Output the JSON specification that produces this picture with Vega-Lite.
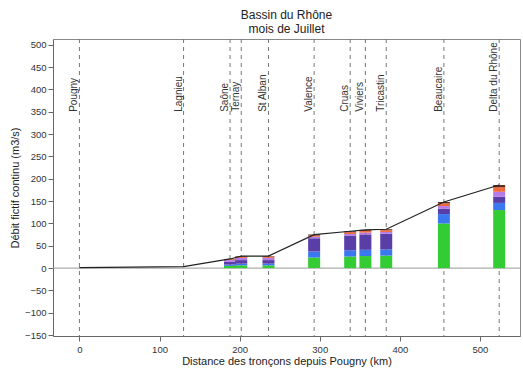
{
  "$schema": "https://vega.github.io/schema/vega-lite/v6.json",
  "width": 467,
  "height": 297,
  "autosize": {"type": "none"},
  "padding": {"left": 53, "top": 39, "right": 3, "bottom": 35},
  "background": "white",
  "config": {
    "font": "Liberation Sans",
    "view": {"stroke": "#888888", "strokeWidth": 1},
    "axis": {"grid": false, "domainColor": "#666666", "tickColor": "#666666", "labelColor": "#333333", "titleColor": "#222222", "labelFontSize": 9.5, "titleFontSize": 11, "titleFontWeight": "normal", "tickSize": 5, "labelOverlap": false},
    "axisY": {"labelOverlap": false},
    "axisQuantitative": {"labelOverlap": false}
  },
  "title": {"text": ["Bassin du Rhône", "mois de Juillet"], "fontSize": 12, "fontWeight": "normal", "color": "#222222", "lineHeight": 14, "offset": 3, "anchor": "middle", "frame": "group"},
  "datasets": {
    "stations": [
      {"station": "Pougny", "km": 0},
      {"station": "Lagnieu", "km": 130},
      {"station": "Saône", "km": 188},
      {"station": "Ternay", "km": 202},
      {"station": "St Alban", "km": 236},
      {"station": "Valence", "km": 293},
      {"station": "Cruas", "km": 338},
      {"station": "Viviers", "km": 357},
      {"station": "Tricastin", "km": 383},
      {"station": "Beaucaire", "km": 455},
      {"station": "Delta du Rhône", "km": 524}
    ],
    "total": [
      {"station": "Pougny", "km": 0, "debit": 1},
      {"station": "Lagnieu", "km": 130, "debit": 3.5},
      {"station": "Saône", "km": 188, "debit": 20.5},
      {"station": "Ternay", "km": 202, "debit": 27},
      {"station": "St Alban", "km": 236, "debit": 27},
      {"station": "Valence", "km": 293, "debit": 75},
      {"station": "Cruas", "km": 338, "debit": 82.5},
      {"station": "Viviers", "km": 357, "debit": 85.5},
      {"station": "Tricastin", "km": 383, "debit": 87},
      {"station": "Beaucaire", "km": 455, "debit": 148},
      {"station": "Delta du Rhône", "km": 524, "debit": 186}
    ],
    "parts": [
      {"km": 188, "comp": "c1", "value": 5}, {"km": 188, "comp": "c2", "value": 3}, {"km": 188, "comp": "c3", "value": 6}, {"km": 188, "comp": "c4", "value": 4}, {"km": 188, "comp": "c5", "value": 2}, {"km": 188, "comp": "c6", "value": 0.5},
      {"km": 202, "comp": "c1", "value": 6}, {"km": 202, "comp": "c2", "value": 4}, {"km": 202, "comp": "c3", "value": 8}, {"km": 202, "comp": "c4", "value": 5}, {"km": 202, "comp": "c5", "value": 3}, {"km": 202, "comp": "c6", "value": 1},
      {"km": 236, "comp": "c1", "value": 6}, {"km": 236, "comp": "c2", "value": 4}, {"km": 236, "comp": "c3", "value": 8}, {"km": 236, "comp": "c4", "value": 5}, {"km": 236, "comp": "c5", "value": 3}, {"km": 236, "comp": "c6", "value": 1},
      {"km": 293, "comp": "c1", "value": 24}, {"km": 293, "comp": "c2", "value": 13}, {"km": 293, "comp": "c3", "value": 30}, {"km": 293, "comp": "c4", "value": 3}, {"km": 293, "comp": "c5", "value": 3}, {"km": 293, "comp": "c6", "value": 2},
      {"km": 338, "comp": "c1", "value": 26}, {"km": 338, "comp": "c2", "value": 14}, {"km": 338, "comp": "c3", "value": 33}, {"km": 338, "comp": "c4", "value": 3.5}, {"km": 338, "comp": "c5", "value": 4}, {"km": 338, "comp": "c6", "value": 2},
      {"km": 357, "comp": "c1", "value": 27}, {"km": 357, "comp": "c2", "value": 14}, {"km": 357, "comp": "c3", "value": 34.5}, {"km": 357, "comp": "c4", "value": 4}, {"km": 357, "comp": "c5", "value": 4}, {"km": 357, "comp": "c6", "value": 2},
      {"km": 383, "comp": "c1", "value": 28}, {"km": 383, "comp": "c2", "value": 14}, {"km": 383, "comp": "c3", "value": 35}, {"km": 383, "comp": "c4", "value": 4}, {"km": 383, "comp": "c5", "value": 4}, {"km": 383, "comp": "c6", "value": 2},
      {"km": 455, "comp": "c1", "value": 100}, {"km": 455, "comp": "c2", "value": 21}, {"km": 455, "comp": "c3", "value": 12}, {"km": 455, "comp": "c4", "value": 6}, {"km": 455, "comp": "c5", "value": 6}, {"km": 455, "comp": "c6", "value": 3},
      {"km": 524, "comp": "c1", "value": 130}, {"km": 524, "comp": "c2", "value": 16}, {"km": 524, "comp": "c3", "value": 14}, {"km": 524, "comp": "c4", "value": 11}, {"km": 524, "comp": "c5", "value": 10}, {"km": 524, "comp": "c6", "value": 5}
    ],
    "zero": [{"y": 0}]
  },
  "layer": [
    {
      "data": {"name": "zero"},
      "mark": {"type": "rule", "color": "#999999", "strokeWidth": 1},
      "encoding": {"y": {"field": "y", "type": "quantitative", "scale": {"domain": [-152, 513], "nice": false, "zero": false}, "axis": {"values": [-150, -100, -50, 0, 50, 100, 150, 200, 250, 300, 350, 400, 450, 500], "title": "Débit fictif continu (m3/s)", "titlePadding": 4, "labelPadding": 2, "labelOverlap": false}}}
    },
    {
      "data": {"name": "stations"},
      "mark": {"type": "rule", "color": "#777777", "strokeWidth": 1, "strokeDash": [4, 4]},
      "encoding": {"x": {"field": "km", "type": "quantitative", "scale": {"domain": [-33, 550], "nice": false, "zero": false, "padding": 0}, "axis": {"values": [0, 100, 200, 300, 400, 500], "title": "Distance des tronçons depuis Pougny (km)", "titlePadding": 2, "labelPadding": 3, "labelOverlap": false}}}
    },
    {
      "data": {"name": "parts"},
      "mark": {"type": "bar", "width": 12},
      "encoding": {
        "x": {"field": "km", "type": "quantitative", "axis": {"values": [0, 100, 200, 300, 400, 500], "title": "Distance des tronçons depuis Pougny (km)", "titlePadding": 2, "labelPadding": 3, "labelOverlap": false}},
        "y": {"field": "value", "type": "quantitative", "aggregate": "sum", "stack": "zero", "axis": {"values": [-150, -100, -50, 0, 50, 100, 150, 200, 250, 300, 350, 400, 450, 500], "title": "Débit fictif continu (m3/s)", "titlePadding": 4, "labelPadding": 2, "labelOverlap": false}},
        "color": {"field": "comp", "type": "nominal", "scale": {"domain": ["c1", "c2", "c3", "c4", "c5", "c6"], "range": ["#33cc33", "#3b78f0", "#5a3ea8", "#b57be6", "#f26a3c", "#5a2a1e"]}, "legend": null},
        "order": {"field": "comp", "sort": "ascending"}
      }
    },
    {
      "data": {"name": "total"},
      "mark": {"type": "line", "color": "#222222", "strokeWidth": 1.2},
      "encoding": {
        "x": {"field": "km", "type": "quantitative", "axis": {"values": [0, 100, 200, 300, 400, 500], "title": "Distance des tronçons depuis Pougny (km)", "titlePadding": 2, "labelPadding": 3, "labelOverlap": false}},
        "y": {"field": "debit", "type": "quantitative", "axis": {"values": [-150, -100, -50, 0, 50, 100, 150, 200, 250, 300, 350, 400, 450, 500], "title": "Débit fictif continu (m3/s)", "titlePadding": 4, "labelPadding": 2, "labelOverlap": false}}
      }
    },
    {
      "data": {"name": "stations"},
      "mark": {"type": "text", "angle": 270, "align": "left", "baseline": "bottom", "fontSize": 10, "color": "#333333", "clip": true},
      "encoding": {
        "x": {"field": "km", "type": "quantitative", "axis": {"values": [0, 100, 200, 300, 400, 500], "title": "Distance des tronçons depuis Pougny (km)", "titlePadding": 2, "labelPadding": 3, "labelOverlap": false}},
        "y": {"datum": 350, "type": "quantitative", "axis": {"values": [-150, -100, -50, 0, 50, 100, 150, 200, 250, 300, 350, 400, 450, 500], "title": "Débit fictif continu (m3/s)", "titlePadding": 4, "labelPadding": 2, "labelOverlap": false}},
        "text": {"field": "station"}
      }
    }
  ]
}
